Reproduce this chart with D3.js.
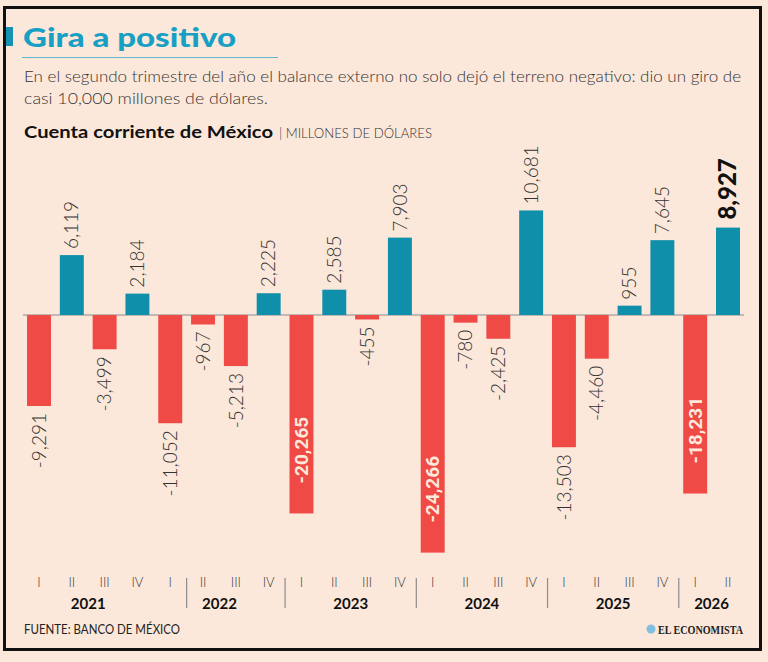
<!DOCTYPE html>
<html><head><meta charset="utf-8">
<script src="https://cdn.jsdelivr.net/npm/d3@7"></script>
<style>
html,body{margin:0;padding:0;background:#fce8da;}
svg{display:block;}
</style></head><body>
<svg id="c" width="768" height="662"></svg>
<script>
const categories = ["2021 I","2021 II","2021 III","2021 IV","2022 I","2022 II","2022 III","2022 IV",
  "2023 I","2023 II","2023 III","2023 IV","2024 I","2024 II","2024 III","2024 IV",
  "2025 I","2025 II","2025 III","2025 IV","2026 I","2026 II"];
const quarterLabels = ["I","II","III","IV","I","II","III","IV","I","II","III","IV",
  "I","II","III","IV","I","II","III","IV","I","II"];
const years = ["2021","2022","2023","2024","2025","2026"];
const values = [-9291, 6119, -3499, 2184, -11052, -967, -5213, 2225, -20265, 2585, -455, 7903,
  -24266, -780, -2425, 10681, -13503, -4460, 955, 7645, -18231, 8927];
const separatorAfter = [4, 7, 11, 15, 19];

const svg = d3.select("#c");
const W = 768, H = 662;
const fmt = d3.formatLocale({decimal: ".", thousands: ",", grouping: [3], currency: ["$", ""], minus: "-"}).format(",");
const BG = "#fce8da", TEAL = "#0f8fa9", RED = "#ef4a46";
const LIGHT = "'Lato', 'Open Sans', sans-serif";

svg.append("rect").attr("width", W).attr("height", H).attr("fill", BG);
svg.append("rect").attr("x", 4.5).attr("y", 7.5).attr("width", 756).attr("height", 642)
  .attr("fill", BG).attr("stroke", "#111").attr("stroke-width", 3);

// Header
svg.append("rect").attr("x", 6).attr("y", 27).attr("width", 7).attr("height", 19).attr("fill", "#1592b3");
svg.append("text").attr("x", 23).attr("y", 47).text("Gira a positivo")
  .attr("font-family", "'Lato', sans-serif").attr("font-weight", 900).attr("font-size", 27)
  .attr("fill", "#189fc4").attr("textLength", 213).attr("lengthAdjust", "spacingAndGlyphs");
svg.append("line").attr("x1", 22).attr("x2", 278).attr("y1", 57.5).attr("y2", 57.5)
  .attr("stroke", "#5fb9cf").attr("stroke-width", 1);
svg.append("text").attr("x", 24).attr("y", 82)
  .text("En el segundo trimestre del año el balance externo no solo dejó el terreno negativo: dio un giro de")
  .attr("font-family", LIGHT).attr("font-weight", 300).attr("font-size", 16.5).attr("fill", "#333")
  .attr("textLength", 717).attr("lengthAdjust", "spacingAndGlyphs");
svg.append("text").attr("x", 24).attr("y", 104).text("casi 10,000 millones de dólares.")
  .attr("font-family", LIGHT).attr("font-weight", 300).attr("font-size", 16.5).attr("fill", "#333")
  .attr("textLength", 244).attr("lengthAdjust", "spacingAndGlyphs");
svg.append("text").attr("x", 24).attr("y", 138).text("Cuenta corriente de México")
  .attr("font-family", "'Lato', sans-serif").attr("font-weight", 700).attr("font-size", 17.5).attr("fill", "#111")
  .attr("textLength", 249).attr("lengthAdjust", "spacingAndGlyphs");
svg.append("text").attr("x", 279).attr("y", 138).text("| MILLONES DE DÓLARES")
  .attr("font-family", LIGHT).attr("font-weight", 300).attr("font-size", 13).attr("fill", "#333")
  .attr("textLength", 153).attr("lengthAdjust", "spacingAndGlyphs");

// Scales
const x = d3.scaleBand().domain(categories).range([22.6, 744.4]).paddingInner(0.27).paddingOuter(0.135);
const y = d3.scaleLinear().domain([-25000, 10000]).range([559.8, 217.1]);
const y0 = y(0);

// Baseline
svg.append("line").attr("x1", 23).attr("x2", 744).attr("y1", y0).attr("y2", y0)
  .attr("stroke", "#8a8a8a").attr("stroke-width", 1);

const data = categories.map((c, i) => ({c, v: values[i], i}));

svg.append("g").selectAll("rect").data(data).join("rect")
  .attr("x", d => x(d.c)).attr("width", x.bandwidth())
  .attr("y", d => Math.min(y(d.v), y0))
  .attr("height", d => Math.abs(y(d.v) - y0))
  .attr("fill", d => d.v >= 0 ? TEAL : RED);

// Value labels
const last = data.length - 1;
const lab = svg.append("g");
data.forEach(d => {
  const cx = x(d.c) + x.bandwidth() / 2;
  const yv = y(d.v);
  const t = lab.append("text").text(fmt(d.v)).attr("dy", "0.35em");
  if (d.i === last) {
    t.attr("transform", `translate(${cx},${yv - 8}) rotate(-90)`).attr("text-anchor", "start")
      .attr("font-family", "'Lato', sans-serif").attr("font-weight", 900).attr("font-size", 24).attr("fill", "#111");
  } else if (d.v < -15000) {
    t.attr("transform", `translate(${cx},${yv - 30}) rotate(-90)`).attr("text-anchor", "start")
      .attr("font-family", "'Liberation Sans Narrow', 'Roboto', sans-serif").attr("font-weight", 700)
      .attr("font-size", 19).attr("fill", "#fde9dc");
  } else if (d.v >= 0) {
    t.attr("transform", `translate(${cx},${yv - 6}) rotate(-90)`).attr("text-anchor", "start")
      .attr("font-family", LIGHT).attr("font-weight", 300).attr("font-size", 19).attr("fill", "#333");
  } else {
    t.attr("transform", `translate(${cx},${yv + 7}) rotate(-90)`).attr("text-anchor", "end")
      .attr("font-family", LIGHT).attr("font-weight", 300).attr("font-size", 19).attr("fill", "#333");
  }
});

// X axis: quarters
const xAxis = d3.axisBottom(x).tickSize(0).tickFormat((c, i) => quarterLabels[i]);
const ax = svg.append("g").attr("transform", `translate(0,578)`).call(xAxis);
ax.select(".domain").remove();
ax.selectAll("text").attr("font-family", LIGHT).attr("font-weight", 300).attr("font-size", 13)
  .attr("fill", "#333").attr("dy", "0.71em").attr("y", 0);

// Year labels
years.forEach(yr => {
  const idx = categories.map((c, i) => c.startsWith(yr) ? i : -1).filter(i => i >= 0);
  const cx = d3.mean(idx, i => x(categories[i]) + x.bandwidth() / 2);
  svg.append("text").attr("x", cx).attr("y", 609).attr("text-anchor", "middle").text(yr)
    .attr("font-family", "'Lato', sans-serif").attr("font-weight", 700).attr("font-size", 15).attr("fill", "#111");
});

// Separators
separatorAfter.forEach(i => {
  const sx = (x(categories[i]) + x.bandwidth() + x(categories[i + 1])) / 2;
  svg.append("line").attr("x1", sx).attr("x2", sx).attr("y1", 578).attr("y2", 608)
    .attr("stroke", "#8d8d8d").attr("stroke-width", 1.2);
});

// Footer
svg.append("text").attr("x", 24).attr("y", 634).text("FUENTE: BANCO DE MÉXICO")
  .attr("font-family", "'Lato', sans-serif").attr("font-weight", 400).attr("font-size", 13).attr("fill", "#222")
  .attr("textLength", 156).attr("lengthAdjust", "spacingAndGlyphs");
svg.append("circle").attr("cx", 651).attr("cy", 629).attr("r", 4.5).attr("fill", "#7fbfe0");
svg.append("text").attr("x", 658).attr("y", 634).text("EL ECONOMISTA")
  .attr("font-family", "'Liberation Serif', 'DejaVu Serif', serif").attr("font-weight", 700)
  .attr("font-size", 13).attr("fill", "#222")
  .attr("textLength", 85).attr("lengthAdjust", "spacingAndGlyphs");
</script>
</body></html>
